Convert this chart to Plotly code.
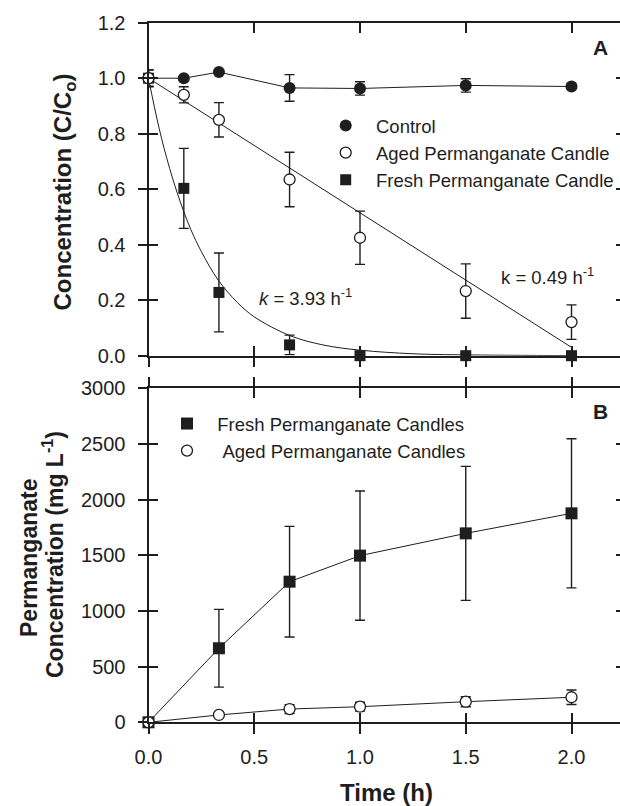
import plotly.graph_objects as go

# ---------------- data ----------------
time_a = [0, 0.167, 0.333, 0.667, 1.0, 1.5, 2.0]
control = [1.00, 1.00, 1.022, 0.965, 0.963, 0.974, 0.970]
control_err = [0.03, 0.008, 0.008, 0.048, 0.024, 0.024, 0.008]
aged = [1.00, 0.94, 0.85, 0.635, 0.425, 0.233, 0.121]
aged_err = [0.03, 0.029, 0.062, 0.098, 0.096, 0.098, 0.062]
fresh = [1.00, 0.603, 0.228, 0.039, 0.0, 0.0, 0.0]
fresh_err = [0.03, 0.144, 0.142, 0.035, 0.008, 0.008, 0.008]

aged_fit_t = [0.0, 2.0]
aged_fit = [1.0, 0.03]
fresh_fit_t = [0.0, 0.05, 0.1, 0.15, 0.2, 0.25, 0.33, 0.42, 0.5, 0.67, 0.83, 1.0, 1.25, 1.5, 2.0]
fresh_fit = [1.0, 0.82, 0.675, 0.555, 0.455, 0.375, 0.272, 0.192, 0.14, 0.072, 0.038, 0.02, 0.007, 0.003, 0.0004]

time_b = [0, 0.333, 0.667, 1.0, 1.5, 2.0]
fresh_b = [0, 665, 1263, 1497, 1697, 1877]
fresh_b_err = [0, 349, 497, 580, 602, 670]
aged_b = [0, 66, 119, 140, 185, 225]
aged_b_err = [0, 10, 40, 40, 45, 65]

x_ticks = [0.0, 0.5, 1.0, 1.5, 2.0]
ya_ticks = [0.0, 0.2, 0.4, 0.6, 0.8, 1.0, 1.2]
yb_ticks = [0, 500, 1000, 1500, 2000, 2500, 3000]

# ---------------- style ----------------
INK = "#1e1e1e"
FONT = "Liberation Sans, Arial, Helvetica, sans-serif"
W, H = 620, 806
X0 = 148.5            # pixel of x = 0
XR = [0, (W - X0) / 211.5]
XDOM = [X0 / W, 1.0]
A_DOM = [1 - 355.7 / H, 1 - 22.7 / H]
B_DOM = [1 - 722.3 / H, 1 - 388.3 / H]

err = lambda arr: dict(type="data", array=arr, visible=True, color=INK, thickness=1.4, width=5)

fig = go.Figure()

# ---- Panel A ----
fig.add_trace(go.Scatter(x=fresh_fit_t, y=fresh_fit, mode="lines", line=dict(color=INK, width=1, shape="spline"),
                         showlegend=False, xaxis="x", yaxis="y", hoverinfo="skip"))
fig.add_trace(go.Scatter(x=aged_fit_t, y=aged_fit, mode="lines", line=dict(color=INK, width=1),
                         showlegend=False, xaxis="x", yaxis="y", hoverinfo="skip"))
fig.add_trace(go.Scatter(x=time_a, y=fresh, mode="markers", error_y=err(fresh_err),
                         marker=dict(symbol="square", size=11, color=INK),
                         showlegend=False, xaxis="x", yaxis="y", cliponaxis=False))
fig.add_trace(go.Scatter(x=time_a, y=control, mode="lines+markers", error_y=err(control_err),
                         line=dict(color=INK, width=1),
                         marker=dict(symbol="circle", size=12, color=INK),
                         showlegend=False, xaxis="x", yaxis="y", cliponaxis=False))
fig.add_trace(go.Scatter(x=time_a, y=aged, mode="markers", error_y=err(aged_err),
                         marker=dict(symbol="circle", size=11, color="white", line=dict(color=INK, width=1.3)),
                         showlegend=False, xaxis="x", yaxis="y", cliponaxis=False))

# ---- Panel B ----
fig.add_trace(go.Scatter(x=time_b, y=fresh_b, mode="lines+markers", error_y=err(fresh_b_err),
                         line=dict(color=INK, width=1),
                         marker=dict(symbol="square", size=12, color=INK),
                         showlegend=False, xaxis="x2", yaxis="y2", cliponaxis=False))
fig.add_trace(go.Scatter(x=time_b, y=aged_b, mode="lines+markers", error_y=err(aged_b_err),
                         line=dict(color=INK, width=1),
                         marker=dict(symbol="circle", size=11, color="white", line=dict(color=INK, width=1.3)),
                         showlegend=False, xaxis="x2", yaxis="y2", cliponaxis=False))

# ---- empty traces so the extra tick-only axes get drawn ----
for xa, ya in [("x3", "y"), ("x", "y3"), ("x", "y5"), ("x4", "y2"), ("x2", "y4"), ("x2", "y6")]:
    fig.add_trace(go.Scatter(x=[None], y=[None], mode="markers", xaxis=xa, yaxis=ya,
                             showlegend=False, hoverinfo="skip"))

# ---- legend-only entries ----
NB = "\u00a0\u00a0"
fig.add_trace(go.Scatter(x=[None], y=[None], mode="markers", name=NB + "Control",
                         marker=dict(symbol="circle", size=12, color=INK), legend="legend"))
fig.add_trace(go.Scatter(x=[None], y=[None], mode="markers", name=NB + "Aged Permanganate Candle",
                         marker=dict(symbol="circle", size=11, color="white", line=dict(color=INK, width=1.3)),
                         legend="legend"))
fig.add_trace(go.Scatter(x=[None], y=[None], mode="markers", name=NB + "Fresh Permanganate Candle",
                         marker=dict(symbol="square", size=11, color=INK), legend="legend"))
fig.add_trace(go.Scatter(x=[None], y=[None], mode="markers", name=NB + "Fresh Permanganate Candles",
                         marker=dict(symbol="square", size=12, color=INK), legend="legend2",
                         xaxis="x2", yaxis="y2"))
fig.add_trace(go.Scatter(x=[None], y=[None], mode="markers", name=NB + "\u00a0Aged Permanganate Candles",
                         marker=dict(symbol="circle", size=11, color="white", line=dict(color=INK, width=1.3)),
                         legend="legend2", xaxis="x2", yaxis="y2"))

tickfont = dict(family=FONT, size=20, color=INK)
base = dict(showgrid=False, zeroline=False, linecolor=INK, linewidth=1.6, tickcolor=INK,
            tickwidth=1.6, ticklen=10, automargin=False, fixedrange=True)

layout = dict(
    width=W, height=H, margin=dict(l=0, r=0, t=0, b=0),
    paper_bgcolor="white", plot_bgcolor="rgba(0,0,0,0)",
    font=dict(family=FONT, color=INK),
    # panel A axes
    xaxis=dict(base, domain=XDOM, range=XR, anchor="y", tickvals=x_ticks, ticks="inside",
               showline=True, mirror="ticks", showticklabels=False),
    xaxis3=dict(base, domain=XDOM, range=XR, anchor="y", overlaying="x", tickvals=x_ticks,
                ticks="outside", showline=False, showticklabels=False),
    yaxis=dict(base, domain=A_DOM, range=[0, 1.2], anchor="x", tickvals=ya_ticks, ticks="inside",
               showline=True, showticklabels=False),
    yaxis3=dict(base, domain=A_DOM, range=[0, 1.2], anchor="x", overlaying="y", tickvals=ya_ticks,
                ticks="outside", showline=False, showticklabels=True, tickformat=".1f",
                tickfont=tickfont, ticklabelstandoff=8),
    yaxis5=dict(base, domain=A_DOM, range=[0, 1.2], anchor="x", overlaying="y", side="right",
                tickvals=ya_ticks, ticks="inside", ticklen=4, showline=False, showticklabels=False),
    # panel B axes
    xaxis2=dict(base, domain=XDOM, range=XR, anchor="y2", tickvals=x_ticks, ticks="inside",
                showline=True, mirror="ticks", showticklabels=False),
    xaxis4=dict(base, domain=XDOM, range=XR, anchor="y2", overlaying="x2", tickvals=x_ticks,
                ticks="outside", showline=True, mirror="ticks", showticklabels=True, tickformat=".1f",
                tickfont=tickfont, ticklabelstandoff=6),
    yaxis2=dict(base, domain=B_DOM, range=[0, 3000], anchor="x2", tickvals=yb_ticks, ticks="inside",
                showline=True, showticklabels=False),
    yaxis4=dict(base, domain=B_DOM, range=[0, 3000], anchor="x2", overlaying="y2", tickvals=yb_ticks,
                ticks="outside", showline=False, showticklabels=True, tickfont=tickfont,
                ticklabelstandoff=8),
    yaxis6=dict(base, domain=B_DOM, range=[0, 3000], anchor="x2", overlaying="y2", side="right",
                tickvals=yb_ticks, ticks="inside", ticklen=4, showline=False, showticklabels=False),
    legend=dict(x=(345.7 - 20) / W, y=1 - 107 / H, xanchor="left", yanchor="top",
                bgcolor="rgba(0,0,0,0)", font=dict(family=FONT, size=18.5, color=INK),
                itemclick=False, itemdoubleclick=False),
    legend2=dict(x=(187 - 20) / W, y=1 - 405 / H, xanchor="left", yanchor="top",
                 bgcolor="rgba(0,0,0,0)", font=dict(family=FONT, size=18.5, color=INK),
                 itemclick=False, itemdoubleclick=False),
    showlegend=True,
)
fig.update_layout(**layout)

ann_font = dict(family=FONT, size=18.5, color=INK)
title_font = dict(family=FONT, size=24, color=INK)
title_font_b = dict(family=FONT, size=23, color=INK)
annotations = [
    dict(text="<i>k</i> = 3.93 h<sup>-1</sup>", x=0.512, y=0.21, xref="x", yref="y",
         xanchor="left", yanchor="middle", showarrow=False, font=ann_font),
    dict(text="k = 0.49 h<sup>-1</sup>", x=1.657, y=0.287, xref="x", yref="y",
         xanchor="left", yanchor="middle", showarrow=False, font=ann_font),
    dict(text="<b>A</b>", x=600 / W, y=1 - 47.5 / H, xref="paper", yref="paper",
         xanchor="center", yanchor="middle", showarrow=False, font=dict(family=FONT, size=21, color=INK)),
    dict(text="<b>B</b>", x=600 / W, y=1 - 411.5 / H, xref="paper", yref="paper",
         xanchor="center", yanchor="middle", showarrow=False, font=dict(family=FONT, size=21, color=INK)),
    dict(text="<b>Concentration (C/C<sub>o</sub>)</b>", x=64 / W, y=1 - 192.5 / H, xref="paper", yref="paper",
         xanchor="center", yanchor="middle", textangle=-90, showarrow=False, font=title_font),
    dict(text="<b>Permanganate</b>", x=29 / W, y=1 - 558 / H, xref="paper", yref="paper",
         xanchor="center", yanchor="middle", textangle=-90, showarrow=False, font=title_font_b),
    dict(text="<b>Concentration (mg L<sup>-1</sup>)</b>", x=53 / W, y=1 - 555 / H, xref="paper", yref="paper",
         xanchor="center", yanchor="middle", textangle=-90, showarrow=False, font=title_font_b),
    dict(text="<b>Time (h)</b>", x=386.7 / W, y=1 - 792.5 / H, xref="paper", yref="paper",
         xanchor="center", yanchor="middle", showarrow=False, font=title_font),
]
fig.update_layout(annotations=annotations)

fig.write_html("out.html")
